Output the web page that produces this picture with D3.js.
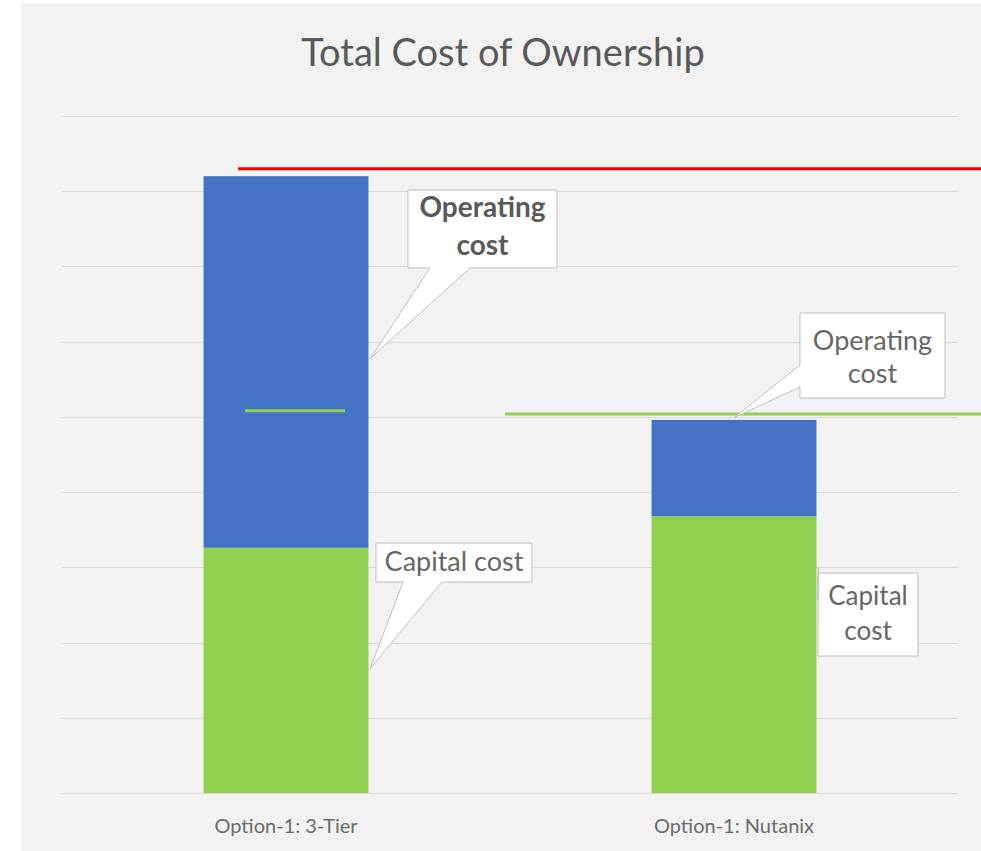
<!DOCTYPE html>
<html>
<head>
<meta charset="utf-8">
<script src="https://cdn.jsdelivr.net/npm/d3@7"></script>
<style>
  body { margin: 0; background: #fff; }
  text { font-family: Lato, "Open Sans", sans-serif; fill: #595959; }
</style>
</head>
<body>
<div class="grafico"></div>
<script>
// data
const categories = ['Option-1: 3-Tier', 'Option-1: Nutanix'];
const capitalCost = [3.26, 3.68];
const operatingCost = [4.94, 1.28];
const gridTicks = [0, 1, 2, 3, 4, 5, 6, 7, 8, 9];
const redLevel = 8.3;     // 3-tier total reference
const greenLevel = 5.04;  // nutanix total reference
const markerLevel = 5.08; // short marker inside 3-tier bar

const w = 981;
const h = 851;

const svg = d3.select('.grafico')
  .append('svg')
  .attr('width', w)
  .attr('height', h);

/* fondo */
svg.append('rect')
  .attr('x', 21).attr('y', 3)
  .attr('width', w - 21).attr('height', h - 3)
  .attr('fill', '#f2f2f2');

/* escalas */
const xScale = d3.scaleBand()
  .domain(categories)
  .range([62, 958])
  .paddingInner(0.632)
  .paddingOuter(0.316);

const yScale = d3.scaleLinear()
  .domain([0, 9])
  .range([793, 116]);

/* titulo */
svg.append('text')
  .attr('x', 503)
  .attr('y', 66)
  .attr('text-anchor', 'middle')
  .style('font-size', '38px')
  .text('Total Cost of Ownership');

/* grid */
svg.append('g')
  .selectAll('line')
  .data(gridTicks)
  .join('line')
  .attr('x1', 62)
  .attr('x2', 958)
  .attr('y1', d => Math.round(yScale(d)) + 0.5)
  .attr('y2', d => Math.round(yScale(d)) + 0.5)
  .attr('stroke', '#d9d9d9')
  .attr('stroke-width', 1);

/* barras apiladas */
const stackData = categories.map((c, i) => ({ cat: c, capital: capitalCost[i], operating: operatingCost[i] }));
const series = d3.stack().keys(['capital', 'operating'])(stackData);
const colors = { capital: '#92d050', operating: '#4472c4' };

svg.append('g')
  .selectAll('g')
  .data(series)
  .join('g')
  .attr('fill', s => colors[s.key])
  .selectAll('rect')
  .data(s => s)
  .join('rect')
  .attr('x', d => xScale(d.data.cat))
  .attr('y', d => yScale(d[1]))
  .attr('width', xScale.bandwidth())
  .attr('height', d => yScale(d[0]) - yScale(d[1]));

/* etiquetas eje x */
svg.append('g')
  .selectAll('text')
  .data(categories)
  .join('text')
  .attr('x', d => xScale(d) + xScale.bandwidth() / 2)
  .attr('y', 833)
  .attr('text-anchor', 'middle')
  .style('font-size', '20px')
  .style('fill', '#6b6b6b')
  .text(d => d);

/* lineas de referencia */
svg.append('line')
  .attr('x1', 238).attr('x2', w)
  .attr('y1', yScale(redLevel)).attr('y2', yScale(redLevel))
  .attr('stroke', '#ff0000').attr('stroke-width', 3);

svg.append('line')
  .attr('x1', 505).attr('x2', w)
  .attr('y1', yScale(greenLevel)).attr('y2', yScale(greenLevel))
  .attr('stroke', '#92d050').attr('stroke-width', 3);

svg.append('line')
  .attr('x1', 245).attr('x2', 345)
  .attr('y1', yScale(markerLevel)).attr('y2', yScale(markerLevel))
  .attr('stroke', '#92d050').attr('stroke-width', 3);

/* callouts */
const callouts = [
  { lines: ['Operating', 'cost'], bold: true, size: 28, box: [408, 190, 557, 268], side: 'bottom', base: [430, 470], tip: [0, 'right', 5.78], first: 217, lh: 38 },
  { lines: ['Capital cost'], bold: false, size: 27, box: [376, 543, 532, 582], side: 'bottom', base: [403, 442], tip: [0, 'right', 1.66], first: 571, lh: 0 },
  { lines: ['Operating', 'cost'], bold: false, size: 27, box: [800, 313, 945, 398], side: 'left', base: [365, 387], tip: [1, 'center', 4.99], first: 350, lh: 33 },
  { lines: ['Capital', 'cost'], bold: false, size: 26, box: [818, 573, 918, 656], side: 'left', base: [600, 630], tip: [1, 'right', 3.0], first: 605, lh: 35 }
];

const tipX = (t) => {
  const x0 = xScale(categories[t[0]]);
  return t[1] === 'right' ? x0 + xScale.bandwidth() + 2 : x0 + xScale.bandwidth() / 2;
};

callouts.forEach(c => {
  const [l, t, r, b] = c.box;
  const tx = tipX(c.tip), ty = yScale(c.tip[2]);
  let p;
  if (c.side === 'bottom') {
    p = `M${l},${t}H${r}V${b}H${c.base[1]}L${tx},${ty}L${c.base[0]},${b}H${l}Z`;
  } else {
    p = `M${l},${t}H${r}V${b}H${l}V${c.base[1]}L${tx},${ty}L${l},${c.base[0]}Z`;
  }
  svg.append('path')
    .attr('d', p)
    .attr('fill', '#ffffff')
    .attr('stroke', '#bfbfbf')
    .attr('stroke-width', 1);

  const cx = (l + r) / 2;
  c.lines.forEach((s, i) => {
    svg.append('text')
      .attr('x', cx)
      .attr('y', c.first + i * c.lh)
      .attr('text-anchor', 'middle')
      .style('font-size', c.size + 'px')
      .style('font-weight', c.bold ? 'bold' : 'normal')
      .style('fill', c.bold ? '#595959' : '#666666')
      .text(s);
  });
});
</script>
</body>
</html>
